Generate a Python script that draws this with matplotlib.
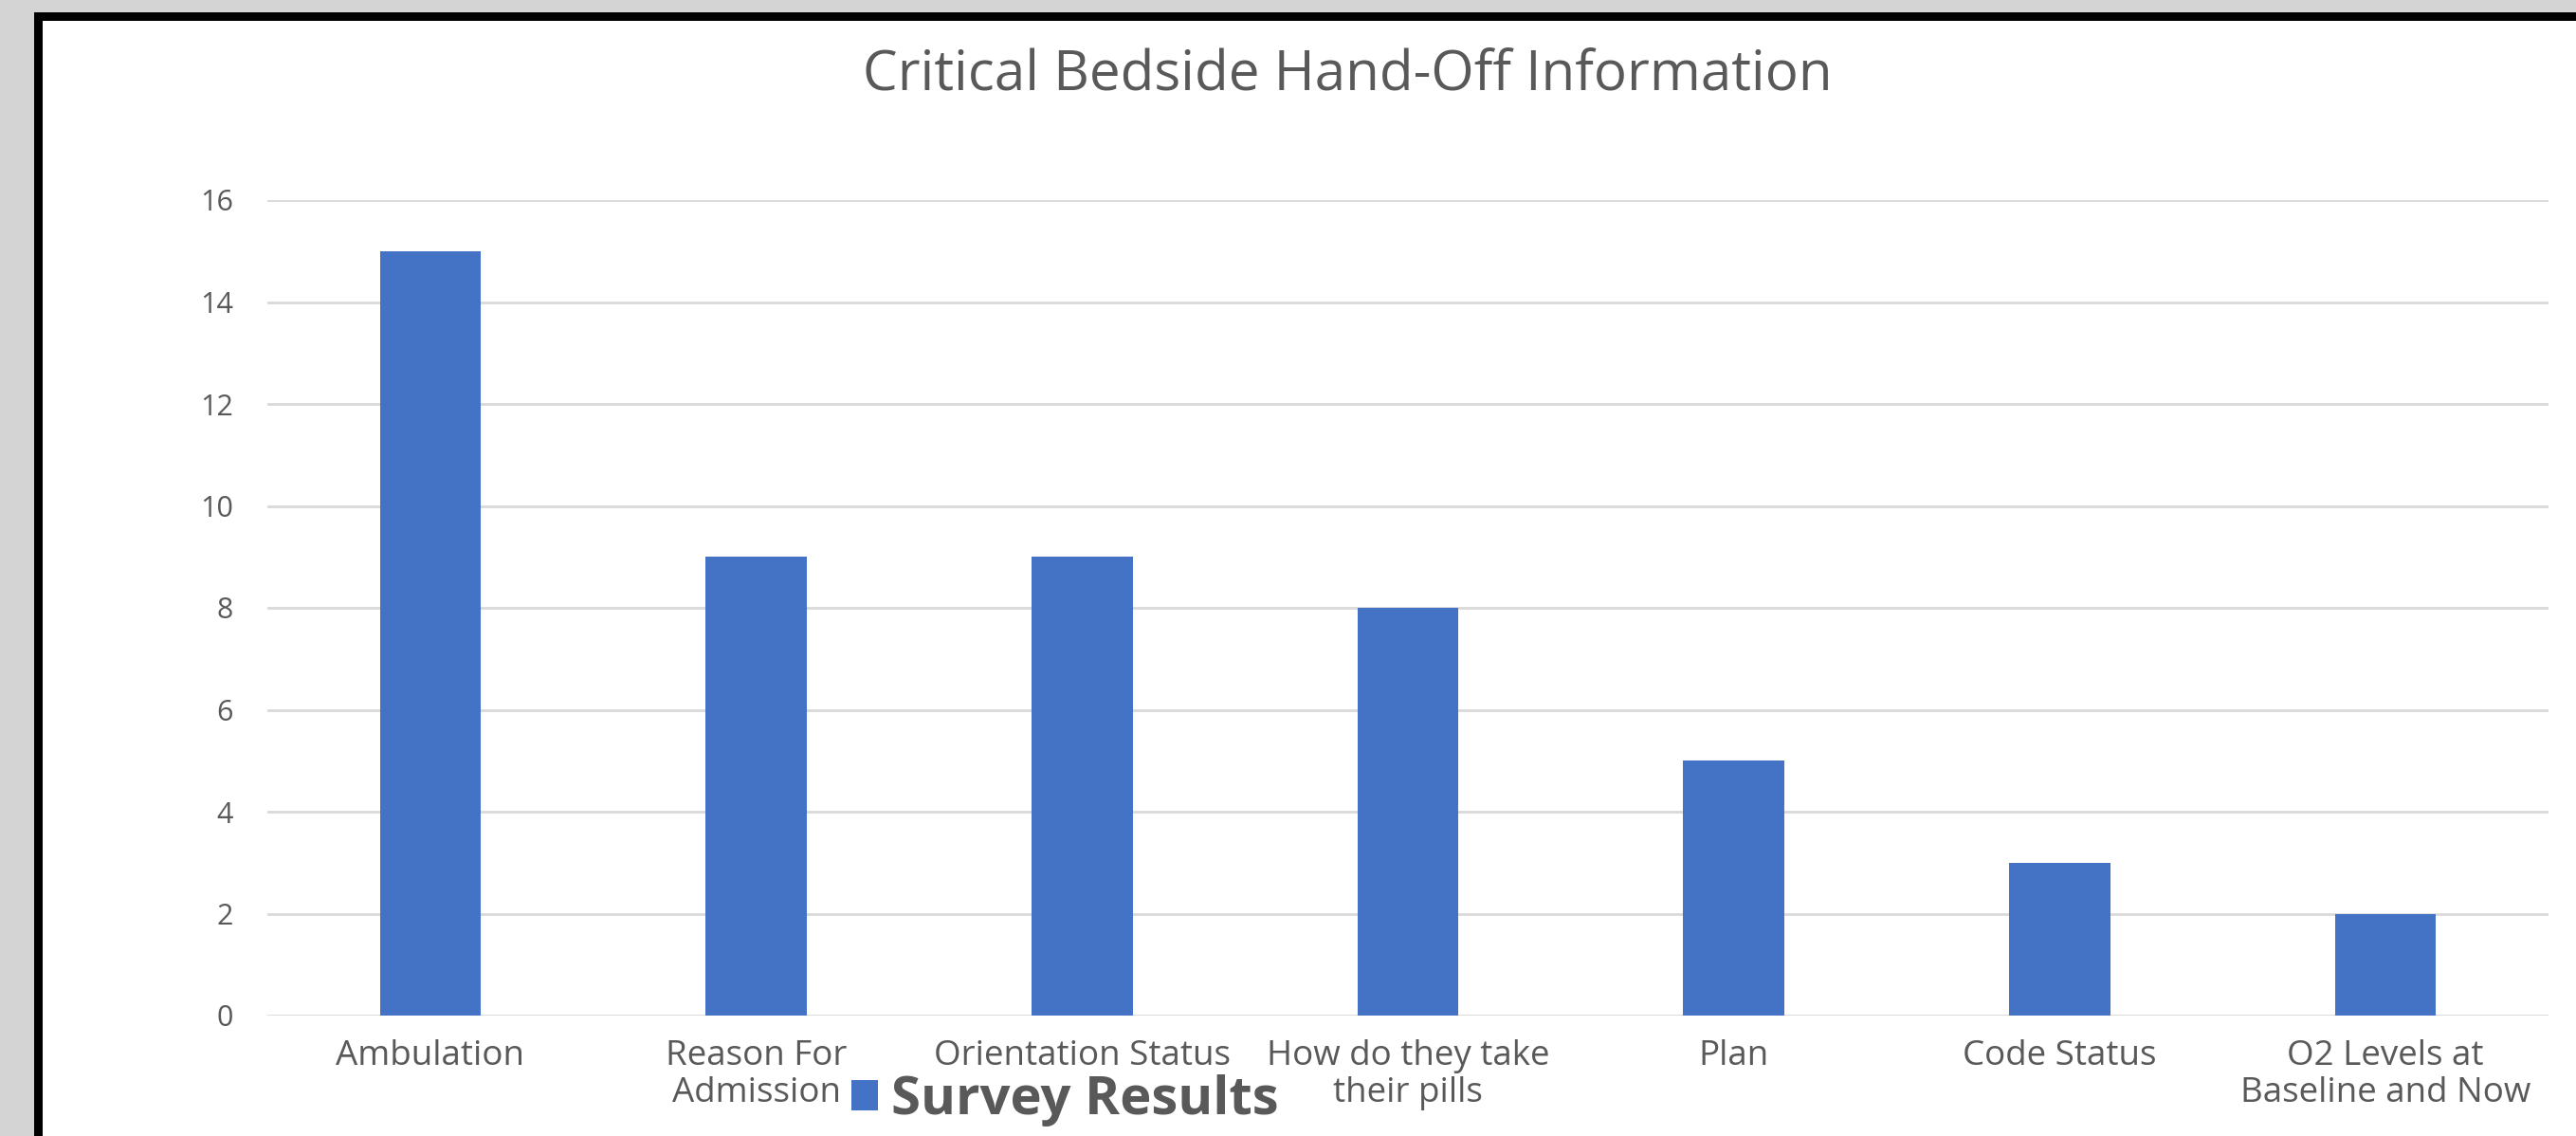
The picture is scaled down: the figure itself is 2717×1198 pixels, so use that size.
import matplotlib.pyplot as plt
from matplotlib.patches import Rectangle

categories = ["Ambulation", "Reason For\nAdmission", "Orientation Status",
              "How do they take\ntheir pills", "Plan", "Code Status",
              "O2 Levels at\nBaseline and Now"]
counts = [15, 9, 9, 8, 5, 3, 2]
yticks = [0, 2, 4, 6, 8, 10, 12, 14, 16]

W, H = 2717, 1198
text_gray = "#595959"
bar_blue = "#4472C4"

plt.rcParams['font.family'] = ['Open Sans', 'DejaVu Sans']

fig = plt.figure(figsize=(W / 100, H / 100), dpi=100, facecolor="#D4D4D4")

# slide frame: black edge on top/left, white panel inside
fig.patches.append(Rectangle((36 / W, 0), 1, (H - 13) / H, transform=fig.transFigure,
                             facecolor="black", edgecolor="none", zorder=-2))
fig.patches.append(Rectangle((45 / W, 0), 1, (H - 22) / H, transform=fig.transFigure,
                             facecolor="white", edgecolor="none", zorder=-1))

ax = fig.add_axes([282 / W, 1 - 1071 / H, (2688 - 282) / W, (1071 - 211) / H])
ax.set_zorder(2)
ax.set_facecolor("none")

x = range(len(categories))
ax.bar(x, counts, width=0.31, color=bar_blue, label="Survey Results", zorder=3)

ax.set_xlim(-0.5, len(categories) - 0.5)
ax.set_ylim(0, 16)
ax.set_yticks(yticks)
ax.set_xticks(list(x))
ax.set_xticklabels(categories, fontsize=26.5, color=text_gray, linespacing=1.1, va="top")
ax.tick_params(axis="y", labelsize=22, colors=text_gray, length=0, pad=26)
ax.tick_params(axis="x", length=0, pad=18)

ax.grid(axis="y", color="#D9D9D9", linewidth=2, zorder=0)
for s in ax.spines.values():
    s.set_visible(False)

fig.text(1421 / W, 1 - 80 / H, "Critical Bedside Hand-Off Information",
         ha="center", va="center", fontsize=42, color=text_gray)

fig.legend(loc="center", bbox_to_anchor=(1123 / W, 1 - 1160 / H), frameon=False,
           prop={"size": 40.5, "weight": "bold"}, labelcolor=text_gray,
           handlelength=0.5, handleheight=0.5, handletextpad=0.25)

fig.savefig("out.png", dpi=100, facecolor=fig.get_facecolor())
